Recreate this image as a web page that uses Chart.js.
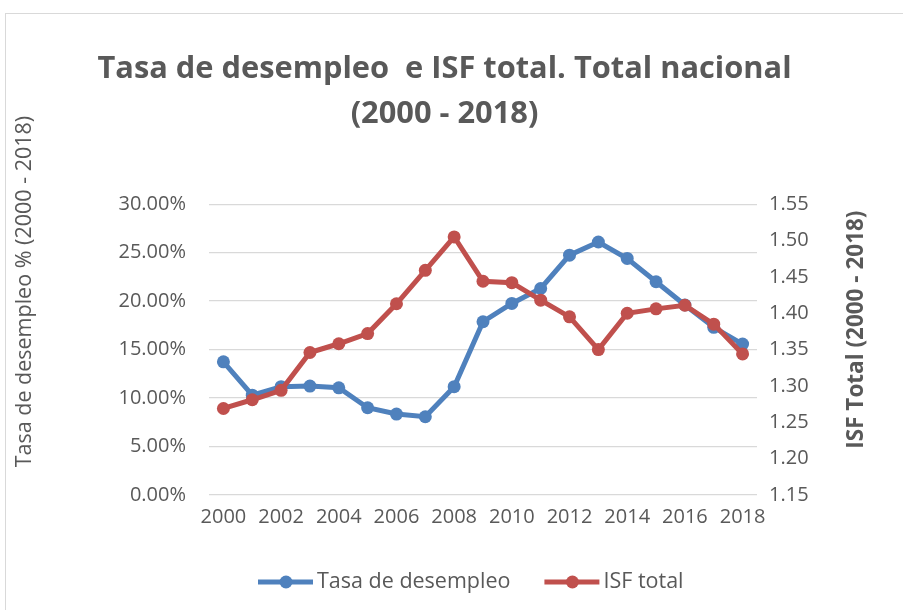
<!DOCTYPE html>
<html lang="es">
<head>
<meta charset="utf-8">
<title>Tasa de desempleo e ISF total</title>
<script src="https://cdn.jsdelivr.net/npm/chart.js@4.4.1/dist/chart.umd.min.js"></script>
<style>
    body { margin: 0; background: #fff; }
    .lienzo { position: relative; width: 903px; height: 610px; overflow: hidden; }
    .marco { position: absolute; left: 5px; top: 13px; width: 1000px; height: 1000px; border: 1px solid #d9d9d9; }
    #grafico { position: absolute; left: 0; top: 0; }
</style>
</head>
<body>
<div class="lienzo">
    <div class="marco"></div>
    <canvas id="grafico" width="903" height="610"></canvas>
</div>
<script>
// Datos
const anios = ['2000', '2001', '2002', '2003', '2004', '2005', '2006', '2007', '2008', '2009',
               '2010', '2011', '2012', '2013', '2014', '2015', '2016', '2017', '2018'];
const tasaDesempleo = [13.74, 10.3, 11.17, 11.24, 11.06, 9.0, 8.35, 8.07, 11.17, 17.87,
                       19.76, 21.3, 24.74, 26.1, 24.4, 22.0, 19.6, 17.3, 15.57];
const isfTotal = [1.269, 1.281, 1.294, 1.346, 1.358, 1.372, 1.413, 1.459, 1.505, 1.444,
                  1.442, 1.418, 1.395, 1.350, 1.400, 1.406, 1.411, 1.385, 1.344];

const tituloGrafico = ['Tasa de desempleo  e ISF total. Total nacional', '(2000 - 2018)'];
const tituloEjeIzq = 'Tasa de desempleo % (2000 - 2018)';
const tituloEjeDer = 'ISF Total (2000 - 2018)';

const AZUL = '#4f81bd';
const ROJO = '#c0504d';
const GRIS_TEXTO = '#595959';
const GRIS_REJILLA = '#d9d9d9';
const FUENTE = '"Open Sans", "DejaVu Sans", sans-serif';

// Títulos de ejes y leyenda dibujados a mano (estilo Excel)
const extras = {
    id: 'extras',
    afterDraw(chart) {
        const { ctx, chartArea } = chart;
        const medio = (chartArea.top + chartArea.bottom) / 2;
        ctx.save();
        ctx.fillStyle = GRIS_TEXTO;
        ctx.textAlign = 'center';
        ctx.textBaseline = 'middle';

        // eje izquierdo
        ctx.save();
        ctx.translate(25, medio - 58);
        ctx.rotate(-Math.PI / 2);
        ctx.font = '21.5px ' + FUENTE;
        ctx.fillText(tituloEjeIzq, 0, 0);
        ctx.restore();

        // eje derecho
        ctx.save();
        ctx.translate(857, medio - 20);
        ctx.rotate(-Math.PI / 2);
        ctx.font = 'bold 22.5px ' + FUENTE;
        ctx.fillText(tituloEjeDer, 0, 0);
        ctx.restore();

        // leyenda
        ctx.font = '21.5px ' + FUENTE;
        ctx.textAlign = 'left';
        const y = chartArea.bottom + 87;
        let x = 258;
        chart.data.datasets.forEach(ds => {
            ctx.strokeStyle = ds.borderColor;
            ctx.lineWidth = 5;
            ctx.beginPath();
            ctx.moveTo(x, y);
            ctx.lineTo(x + 55, y);
            ctx.stroke();
            ctx.fillStyle = ds.borderColor;
            ctx.beginPath();
            ctx.arc(x + 28, y, 6.5, 0, Math.PI * 2);
            ctx.fill();
            ctx.fillStyle = GRIS_TEXTO;
            ctx.fillText(ds.label, x + 59, y);
            x += 59 + ctx.measureText(ds.label).width + 34;
        });
        ctx.restore();
    }
};

function renderizarGrafico() {
    const ctx = document.getElementById('grafico');

    new Chart(ctx, {
        type: 'line',
        data: {
            labels: anios,
            datasets: [
                {
                    label: 'Tasa de desempleo',
                    data: tasaDesempleo,
                    yAxisID: 'yIzq',
                    borderColor: AZUL, backgroundColor: AZUL,
                    borderWidth: 5, pointRadius: 6.5, pointBorderWidth: 0,
                    tension: 0, order: 1
                },
                {
                    label: 'ISF total',
                    data: isfTotal,
                    yAxisID: 'yDer',
                    borderColor: ROJO, backgroundColor: ROJO,
                    borderWidth: 5, pointRadius: 6.5, pointBorderWidth: 0,
                    tension: 0, order: 0
                }
            ]
        },
        options: {
            responsive: false,
            animation: false,
            layout: { padding: { left: 0, right: 14, top: 0, bottom: 75 } },
            plugins: {
                legend: { display: false },
                tooltip: { enabled: false },
                title: {
                    display: true,
                    text: tituloGrafico,
                    color: GRIS_TEXTO,
                    font: { family: FUENTE, size: 30.8, weight: 'bold', lineHeight: 1.48 },
                    padding: { top: 46, bottom: 67 }
                }
            },
            scales: {
                x: {
                    type: 'category',
                    offset: true,
                    grid: { display: false, drawTicks: false },
                    border: { display: false },
                    afterFit: s => { s.height = 40; },
                    ticks: {
                        autoSkip: false, maxRotation: 0, padding: 10,
                        color: GRIS_TEXTO, font: { family: FUENTE, size: 20 },
                        callback: (v, i) => (i % 2 === 0 ? anios[i] : '')
                    }
                },
                yIzq: {
                    position: 'left',
                    min: 0, max: 30,
                    afterFit: s => { s.width = 209; },
                    grid: { color: GRIS_REJILLA, lineWidth: 1.3, drawTicks: false },
                    border: { display: false },
                    ticks: {
                        stepSize: 5, padding: 23,
                        color: GRIS_TEXTO, font: { family: FUENTE, size: 20 },
                        callback: v => v.toFixed(2) + '%'
                    }
                },
                yDer: {
                    position: 'right',
                    min: 1.15, max: 1.55,
                    afterFit: s => { s.width = 132; },
                    grid: { display: false, drawTicks: false },
                    border: { display: false },
                    ticks: {
                        stepSize: 0.05, padding: 12,
                        color: GRIS_TEXTO, font: { family: FUENTE, size: 20 },
                        callback: v => v.toFixed(2)
                    }
                }
            }
        },
        plugins: [extras]
    });
}

document.addEventListener('DOMContentLoaded', renderizarGrafico);
</script>
</body>
</html>
